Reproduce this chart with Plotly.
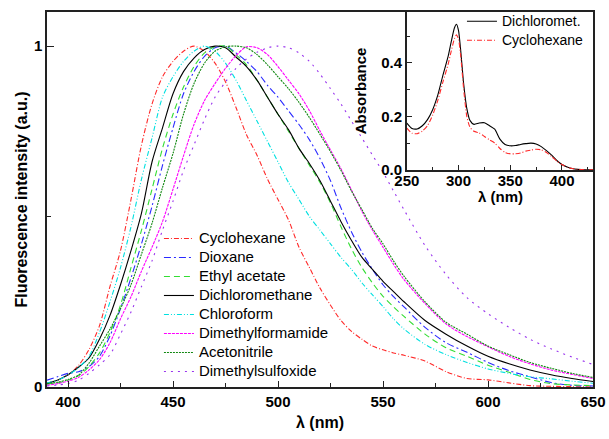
import plotly.graph_objects as go

# ---------------- main fluorescence data ----------------
wl = [390, 395, 400, 405, 410, 415, 420, 425, 430, 435, 440, 445, 450, 455, 460, 465, 470, 475,
      480, 485, 490, 495, 500, 505, 510, 515, 520, 525, 530, 535, 540, 545, 550, 555, 560, 570,
      580, 590, 600, 610, 620, 630, 640, 650]

cyclohexane = [0.011, 0.02, 0.035, 0.063, 0.11, 0.18, 0.295, 0.40, 0.55, 0.71, 0.83, 0.91, 0.955,
               0.985, 1.0, 0.985, 0.95, 0.895, 0.82, 0.74, 0.68, 0.61, 0.55, 0.49, 0.41, 0.35, 0.29,
               0.24, 0.195, 0.163, 0.14, 0.12, 0.109, 0.1, 0.093, 0.076, 0.045, 0.025, 0.021, 0.012,
               0.004, 0.002, 0.001, 0.0]
dioxane = [0.02, 0.03, 0.04, 0.045, 0.06, 0.09, 0.15, 0.23, 0.32, 0.42, 0.53, 0.65, 0.76, 0.86,
           0.925, 0.97, 0.995, 1.0, 0.98, 0.955, 0.925, 0.885, 0.85, 0.81, 0.77, 0.725, 0.67, 0.605,
           0.525, 0.455, 0.395, 0.345, 0.30, 0.265, 0.235, 0.175, 0.13, 0.102, 0.072, 0.048, 0.03,
           0.013, 0.005, 0.003]
ethyl_acetate = [0.008, 0.012, 0.02, 0.033, 0.06, 0.10, 0.16, 0.24, 0.35, 0.46, 0.58, 0.70, 0.80,
                 0.88, 0.94, 0.98, 0.998, 1.0, 0.975, 0.945, 0.90, 0.85, 0.80, 0.75, 0.70, 0.65,
                 0.60, 0.54, 0.47, 0.405, 0.35, 0.305, 0.266, 0.235, 0.207, 0.155, 0.115, 0.09,
                 0.064, 0.043, 0.022, 0.01, 0.006, 0.004]
dichloromethane = [0.011, 0.02, 0.036, 0.058, 0.085, 0.14, 0.21, 0.30, 0.40, 0.51, 0.66, 0.76, 0.86,
                   0.925, 0.965, 0.99, 1.0, 0.995, 0.968, 0.94, 0.90, 0.85, 0.80, 0.755, 0.70,
                   0.655, 0.605, 0.545, 0.485, 0.43, 0.38, 0.345, 0.31, 0.28, 0.25, 0.195, 0.155,
                   0.12, 0.09, 0.068, 0.05, 0.036, 0.025, 0.016]
chloroform = [0.012, 0.02, 0.035, 0.057, 0.09, 0.16, 0.25, 0.35, 0.47, 0.61, 0.73, 0.85, 0.91,
              0.955, 0.985, 1.0, 0.985, 0.95, 0.90, 0.84, 0.78, 0.72, 0.66, 0.60, 0.55, 0.50, 0.46,
              0.42, 0.38, 0.345, 0.305, 0.27, 0.236, 0.2, 0.17, 0.125, 0.095, 0.072, 0.053, 0.04,
              0.03, 0.024, 0.017, 0.011]
dimethylformamide = [0.005, 0.01, 0.017, 0.028, 0.05, 0.08, 0.13, 0.20, 0.265, 0.34, 0.41, 0.485,
                     0.58, 0.678, 0.77, 0.84, 0.89, 0.935, 0.972, 0.998, 0.995, 0.975, 0.94, 0.90,
                     0.86, 0.81, 0.751, 0.695, 0.64, 0.578, 0.515, 0.46, 0.41, 0.36, 0.315, 0.245,
                     0.185, 0.148, 0.118, 0.09, 0.068, 0.05, 0.037, 0.025]
acetonitrile = [0.01, 0.014, 0.022, 0.035, 0.07, 0.12, 0.17, 0.23, 0.30, 0.39, 0.48, 0.585, 0.685,
                0.80, 0.89, 0.95, 0.985, 0.998, 1.0, 0.995, 0.975, 0.945, 0.91, 0.875, 0.835, 0.79,
                0.741, 0.69, 0.635, 0.575, 0.52, 0.465, 0.42, 0.37, 0.325, 0.25, 0.19, 0.155, 0.12,
                0.095, 0.072, 0.055, 0.04, 0.028]
dimethylsulfoxide = [0.003, 0.006, 0.01, 0.02, 0.04, 0.065, 0.095, 0.155, 0.22, 0.295, 0.37, 0.46,
                     0.545, 0.635, 0.71, 0.785, 0.85, 0.895, 0.935, 0.962, 0.982, 0.995, 1.0, 0.995,
                     0.98, 0.955, 0.918, 0.875, 0.83, 0.78, 0.73, 0.68, 0.63, 0.575, 0.52, 0.415,
                     0.33, 0.262, 0.215, 0.175, 0.14, 0.112, 0.088, 0.066]

# ---------------- inset absorbance data ----------------
abs_wl = [250, 255, 260, 265, 270, 275, 280, 285, 290, 293, 296, 298, 300, 302, 305, 308, 311, 315,
          320, 325, 330, 335, 340, 345, 350, 355, 360, 365, 370, 375, 380, 385, 390, 395, 400, 405,
          410, 415, 420, 425, 430]
abs_dcm = [0.175, 0.155, 0.153, 0.165, 0.188, 0.225, 0.28, 0.355, 0.425, 0.48, 0.53, 0.544, 0.52,
           0.45, 0.32, 0.23, 0.185, 0.17, 0.175, 0.176, 0.165, 0.152, 0.115, 0.095, 0.09, 0.091,
           0.095, 0.098, 0.1, 0.097, 0.087, 0.072, 0.055, 0.035, 0.02, 0.011, 0.005, 0.002, 0.001,
           0.0, 0.0]
abs_chx = [0.156, 0.137, 0.135, 0.145, 0.165, 0.205, 0.26, 0.33, 0.395, 0.445, 0.49, 0.505, 0.488,
           0.43, 0.30, 0.20, 0.16, 0.144, 0.138, 0.125, 0.112, 0.10, 0.08, 0.065, 0.06, 0.06, 0.063,
           0.07, 0.074, 0.077, 0.075, 0.065, 0.05, 0.033, 0.02, 0.01, 0.005, 0.002, 0.001, 0.0, 0.0]

FONT = "Liberation Sans, Arial, sans-serif"

series = [
    ("Cyclohexane", cyclohexane, "#ff2a2a", "5px,2px,1px,2px"),
    ("Dioxane", dioxane, "#2a2aff", "7px,3px,2px,3px"),
    ("Ethyl acetate", ethyl_acetate, "#33dd33", "6px,4px"),
    ("Dichloromethane", dichloromethane, "#000000", "solid"),
    ("Chloroform", chloroform, "#00e0e0", "5px,2px,1px,2px,1px,2px"),
    ("Dimethylformamide", dimethylformamide, "#ff00ff", "3px,1px"),
    ("Acetonitrile", acetonitrile, "#118811", "2px,1px"),
    ("Dimethylsulfoxide", dimethylsulfoxide, "#9933ee", "2px,5px"),
]


def big(label, size):
    return f'<span style="font-size:{size}px">{label}</span>'


fig = go.Figure()
for name, ys, color, dash in series:
    fig.add_trace(go.Scatter(x=wl, y=ys, name=big(name, 15), mode="lines",
                             line=dict(color=color, width=1.1, dash=dash, shape="spline", smoothing=0.8),
                             xaxis="x", yaxis="y", legend="legend"))

fig.add_trace(go.Scatter(x=abs_wl, y=abs_dcm, name=big("Dichloromet.", 14), mode="lines",
                         line=dict(color="#000000", width=1.1, shape="spline", smoothing=0.6),
                         xaxis="x2", yaxis="y2", legend="legend2"))
fig.add_trace(go.Scatter(x=abs_wl, y=abs_chx, name=big("Cyclohexane", 14), mode="lines",
                         line=dict(color="#ff2a2a", width=1.1, dash="5px,2px,1px,2px", shape="spline", smoothing=0.6),
                         xaxis="x2", yaxis="y2", legend="legend2"))

axis_common = dict(showline=True, linecolor="#222", linewidth=1.5, mirror=True, showgrid=False,
                   zeroline=False, ticks="inside", tickcolor="#222", tickwidth=1.2)

fig.update_layout(
    width=609, height=439,
    margin=dict(l=47, r=16, t=12, b=52, autoexpand=False),
    paper_bgcolor="white", plot_bgcolor="white",
    font=dict(family=FONT, color="black"),
    xaxis=dict(**axis_common, range=[390, 650], domain=[0, 1], dtick=50, tick0=0, ticklen=6,
               tickfont=dict(size=15, family=FONT, weight="bold"),
               minor=dict(ticks="inside", dtick=25, tick0=0, ticklen=4, tickcolor="#222"),
               title=dict(text="<b>λ (nm)</b>", font=dict(size=16), standoff=8)),
    yaxis=dict(**axis_common, range=[0, 1.1], domain=[0, 1], tickvals=[0, 1], ticktext=["0", "1"],
               ticklen=7, tickfont=dict(size=15, family=FONT, weight="bold"),
               minor=dict(ticks="inside", tickvals=[0.5], ticklen=4, tickcolor="#222"),
               title=dict(text="<b>Fluorescence intensity (a.u.)</b>", font=dict(size=16), standoff=2)),
    xaxis2=dict(**axis_common, anchor="y2", domain=[0.659, 1.0], range=[250, 430], dtick=50, tick0=0,
                ticklen=5, tickfont=dict(size=15, family=FONT, weight="bold"), ticklabelstandoff=-4,
                minor=dict(ticks="inside", dtick=25, tick0=0, ticklen=3, tickcolor="#222")),
    yaxis2=dict(**axis_common, anchor="x2", domain=[0.579, 1.0], range=[0, 0.59], dtick=0.2,
                tickformat=".1f", ticklen=5, tickfont=dict(size=15, family=FONT, weight="bold"),
                minor=dict(ticks="inside", dtick=0.1, ticklen=3, tickcolor="#222"),
                title=dict(text="<b>Absorbance</b>", font=dict(size=15), standoff=11)),
    legend=dict(x=0.205, y=0.4347, xanchor="left", yanchor="top", bgcolor="rgba(0,0,0,0)",
                font=dict(size=12.3, family=FONT), tracegroupgap=0, itemwidth=30),
    legend2=dict(x=0.76, y=1.014, xanchor="left", yanchor="top", bgcolor="rgba(0,0,0,0)",
                 font=dict(size=11.5, family=FONT), tracegroupgap=0, itemwidth=30),
    annotations=[dict(text="<b>λ (nm)</b>", x=0.83, xref="paper", y=0.507, yref="paper",
                      xanchor="center", yanchor="middle", showarrow=False,
                      font=dict(size=15, family=FONT))],
    showlegend=True,
)
for ax in ["xaxis", "yaxis", "xaxis2", "yaxis2"]:
    fig.layout[ax].automargin = False

fig.write_html("out.html", config={"displayModeBar": False},
               post_script="document.body.style.margin='0px';")
